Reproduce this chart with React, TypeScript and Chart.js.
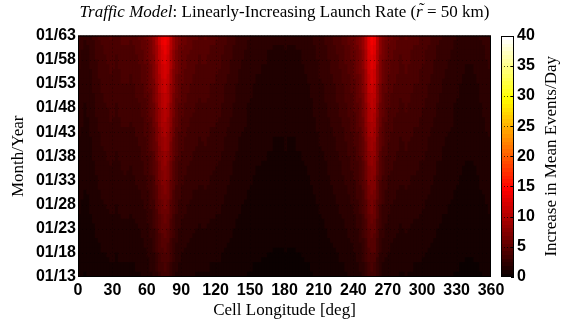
import { useEffect, useRef } from 'react';
import { Chart, registerables } from 'chart.js';

Chart.register(...registerables);

// Longitude cells (start of each 2.5° bin)
const LON_STEP = 2.5;
const lonStarts = [
  0, 2.5, 5, 7.5, 10, 12.5, 15, 17.5, 20, 22.5, 25, 27.5,
  30, 32.5, 35, 37.5, 40, 42.5, 45, 47.5, 50, 52.5, 55, 57.5,
  60, 62.5, 65, 67.5, 70, 72.5, 75, 77.5, 80, 82.5, 85, 87.5,
  90, 92.5, 95, 97.5, 100, 102.5, 105, 107.5, 110, 112.5, 115, 117.5,
  120, 122.5, 125, 127.5, 130, 132.5, 135, 137.5, 140, 142.5, 145, 147.5,
  150, 152.5, 155, 157.5, 160, 162.5, 165, 167.5, 170, 172.5, 175, 177.5,
  180, 182.5, 185, 187.5, 190, 192.5, 195, 197.5, 200, 202.5, 205, 207.5,
  210, 212.5, 215, 217.5, 220, 222.5, 225, 227.5, 230, 232.5, 235, 237.5,
  240, 242.5, 245, 247.5, 250, 252.5, 255, 257.5, 260, 262.5, 265, 267.5,
  270, 272.5, 275, 277.5, 280, 282.5, 285, 287.5, 290, 292.5, 295, 297.5,
  300, 302.5, 305, 307.5, 310, 312.5, 315, 317.5, 320, 322.5, 325, 327.5,
  330, 332.5, 335, 337.5, 340, 342.5, 345, 347.5, 350, 352.5, 355, 357.5,
];

// Increase in mean events/day per longitude cell in the final year (01/62 - 01/63)
const finalYearRate = [
  3.0, 2.8, 2.6, 2.7, 3.0, 3.3, 3.6, 3.9, 4.1, 4.3, 4.4, 4.6,
  4.5, 4.3, 4.5, 4.7, 4.8, 4.7, 4.6, 4.8, 5.0, 5.2, 5.5, 5.9,
  6.5, 7.3, 8.5, 10.2, 12.3, 14.0, 14.8, 13.6, 11.2, 9.0, 7.6, 6.8,
  6.3, 6.0, 5.7, 5.5, 5.3, 5.2, 5.0, 5.1, 5.2, 5.0, 4.8, 4.7,
  4.6, 4.5, 4.3, 4.0, 3.8, 3.6, 3.4, 3.2, 3.0, 2.9, 2.8, 2.6,
  2.5, 2.4, 2.3, 2.3, 2.2, 2.2, 2.1, 2.1, 2.0, 2.0, 2.0, 2.0,
  2.1, 2.0, 2.0, 2.0, 2.1, 2.1, 2.2, 2.3, 2.4, 2.5, 2.7, 2.9,
  3.1, 3.2, 3.4, 3.6, 3.8, 4.0, 4.3, 4.5, 4.8, 5.1, 5.4, 5.8,
  6.2, 6.8, 7.6, 9.0, 11.2, 13.8, 14.9, 14.2, 11.0, 8.6, 7.2, 6.5,
  6.1, 5.8, 5.5, 5.3, 5.0, 5.1, 5.3, 5.1, 4.9, 4.8, 4.7, 4.5,
  4.4, 4.2, 4.0, 3.8, 3.6, 3.4, 3.3, 3.1, 3.0, 2.9, 2.8, 2.6,
  2.5, 2.4, 2.3, 2.2, 2.2, 2.2, 2.3, 2.4, 2.6, 2.7, 2.9, 3.0,
];

// Year rows (start year of each row) and their share of the final-year rate
const yearStarts = [
  2013, 2014, 2015, 2016, 2017, 2018, 2019, 2020, 2021, 2022,
  2023, 2024, 2025, 2026, 2027, 2028, 2029, 2030, 2031, 2032,
  2033, 2034, 2035, 2036, 2037, 2038, 2039, 2040, 2041, 2042,
  2043, 2044, 2045, 2046, 2047, 2048, 2049, 2050, 2051, 2052,
  2053, 2054, 2055, 2056, 2057, 2058, 2059, 2060, 2061, 2062,
];
const growthFactor = [
  0.24, 0.26, 0.26, 0.28, 0.29, 0.31, 0.32, 0.33, 0.35, 0.36,
  0.37, 0.39, 0.40, 0.42, 0.43, 0.44, 0.46, 0.47, 0.49, 0.50,
  0.51, 0.53, 0.54, 0.55, 0.57, 0.58, 0.60, 0.61, 0.62, 0.64,
  0.65, 0.67, 0.68, 0.70, 0.71, 0.72, 0.74, 0.75, 0.77, 0.78,
  0.80, 0.81, 0.83, 0.84, 0.86, 0.87, 0.89, 0.91, 0.94, 0.97,
];

// Axis ticks
const lonTicks = [0, 30, 60, 90, 120, 150, 180, 210, 240, 270, 300, 330, 360];
const yearTickValues = [2013, 2018, 2023, 2028, 2033, 2038, 2043, 2048, 2053, 2058, 2063];
const yearTickLabels = ['01/13', '01/18', '01/23', '01/28', '01/33', '01/38', '01/43', '01/48', '01/53', '01/58', '01/63'];
const colorbarTicks = [0, 5, 10, 15, 20, 25, 30, 35, 40];
const C_MIN = 0;
const C_MAX = 40;

const SANS = '"Liberation Sans", Arial, Helvetica, sans-serif';
const SERIF = '"Liberation Serif", "Times New Roman", serif';
const SERIF_SIZE = 17;

// MATLAB-style 64-level "hot" colormap
function hotColor(v: number): string {
  const n = 64;
  let idx = Math.floor(((v - C_MIN) / (C_MAX - C_MIN)) * n);
  idx = Math.max(0, Math.min(n - 1, idx));
  const k = idx + 1;
  const r = Math.min(1, k / 24);
  const g = Math.max(0, Math.min(1, (k - 24) / 24));
  const b = Math.max(0, Math.min(1, (k - 48) / 16));
  return `rgb(${Math.round(r * 255)},${Math.round(g * 255)},${Math.round(b * 255)})`;
}

const heatmapDecor = {
  id: 'heatmapDecor',
  beforeDatasetsDraw(chart: any) {
    const { ctx, chartArea: a } = chart;
    ctx.save();
    ctx.fillStyle = '#000';
    ctx.fillRect(a.left, a.top, a.right - a.left, a.bottom - a.top);
    ctx.restore();
  },
  afterDatasetsDraw(chart: any) {
    const { ctx, chartArea: a, scales } = chart;
    const x = scales.x;
    const y = scales.y;
    const c = scales.y2;
    ctx.save();

    // dotted grid over the map
    ctx.strokeStyle = 'rgba(0,0,0,0.4)';
    ctx.lineWidth = 1;
    ctx.setLineDash([1, 3]);
    ctx.beginPath();
    lonTicks.slice(1, -1).forEach((t) => {
      const px = Math.round(x.getPixelForValue(t)) + 0.5;
      ctx.moveTo(px, a.top);
      ctx.lineTo(px, a.bottom);
    });
    yearTickValues.slice(1, -1).forEach((t) => {
      const py = Math.round(y.getPixelForValue(t)) + 0.5;
      ctx.moveTo(a.left, py);
      ctx.lineTo(a.right, py);
    });
    ctx.stroke();
    ctx.setLineDash([]);

    // frame
    ctx.strokeStyle = '#000';
    ctx.strokeRect(a.left + 0.5, a.top + 0.5, a.right - a.left - 1, a.bottom - a.top - 1);

    // colorbar
    const cbLeft = a.right + 10;
    const cbWidth = 13;
    const levels = 64;
    for (let i = 0; i < levels; i++) {
      const v0 = C_MIN + ((C_MAX - C_MIN) * i) / levels;
      const v1 = C_MIN + ((C_MAX - C_MIN) * (i + 1)) / levels;
      const yTop = c.getPixelForValue(v1);
      const yBot = c.getPixelForValue(v0);
      ctx.fillStyle = hotColor((v0 + v1) / 2);
      ctx.fillRect(cbLeft, Math.floor(yTop), cbWidth, Math.ceil(yBot) - Math.floor(yTop));
    }
    ctx.strokeStyle = 'rgba(0,0,0,0.7)';
    ctx.setLineDash([1, 2]);
    ctx.beginPath();
    colorbarTicks.slice(1, -1).forEach((t) => {
      const py = Math.round(c.getPixelForValue(t)) + 0.5;
      ctx.moveTo(cbLeft, py);
      ctx.lineTo(cbLeft + cbWidth, py);
    });
    ctx.stroke();
    ctx.setLineDash([]);
    ctx.strokeStyle = '#000';
    ctx.beginPath();
    colorbarTicks.forEach((t) => {
      const py = Math.round(c.getPixelForValue(t)) + 0.5;
      ctx.moveTo(cbLeft + cbWidth - 3, py);
      ctx.lineTo(cbLeft + cbWidth, py);
    });
    ctx.stroke();
    ctx.strokeRect(cbLeft + 0.5, Math.round(c.top) + 0.5, cbWidth - 1, Math.round(c.bottom - c.top) - 1);

    // colorbar label, reading upward
    ctx.fillStyle = '#000';
    ctx.font = `${SERIF_SIZE}px ${SERIF}`;
    ctx.textAlign = 'center';
    ctx.textBaseline = 'middle';
    ctx.translate(552, (c.top + c.bottom) / 2);
    ctx.rotate(-Math.PI / 2);
    ctx.fillText('Increase in Mean Events/Day', 0, 0);
    ctx.restore();
  },
  afterDraw(chart: any) {
    const { ctx, chartArea: a } = chart;
    const parts: [string, boolean][] = [
      ['Traffic Model', true],
      [': Linearly-Increasing Launch Rate (', false],
      ['r', true],
      [' = 50 km)', false],
    ];
    const ty = 13;
    ctx.save();
    ctx.fillStyle = '#000';
    ctx.textBaseline = 'middle';
    ctx.textAlign = 'left';
    const fontFor = (it: boolean) => `${it ? 'italic ' : ''}${SERIF_SIZE}px ${SERIF}`;
    let total = 0;
    parts.forEach(([t, it]) => {
      ctx.font = fontFor(it);
      total += ctx.measureText(t).width;
    });
    let px = (a.left + a.right) / 2 - total / 2;
    parts.forEach(([t, it], i) => {
      ctx.font = fontFor(it);
      const w = ctx.measureText(t).width;
      ctx.fillText(t, px, ty);
      if (i === 2) {
        // tilde accent over the r
        ctx.font = `${SERIF_SIZE}px ${SERIF}`;
        ctx.textAlign = 'center';
        ctx.fillText('\u02DC', px + w / 2 + 2.5, ty - 3);
        ctx.textAlign = 'left';
      }
      px += w;
    });
    ctx.restore();
  },
};

export default function App() {
  const canvasRef = useRef<HTMLCanvasElement | null>(null);

  useEffect(() => {
    document.body.style.margin = '0';
    const canvas = canvasRef.current;
    if (!canvas) return;

    const datasets = yearStarts.map((y0, j) => ({
      label: String(y0),
      data: lonStarts.map((l) => ({ x: l + LON_STEP / 2, y: [y0, y0 + 1] })),
      backgroundColor: lonStarts.map((_, i) => hotColor(finalYearRate[i] * growthFactor[j])),
      borderWidth: 0,
      grouped: false,
      barPercentage: 1,
      categoryPercentage: 1,
      xAxisID: 'x',
      yAxisID: 'y',
    }));

    const chart = new Chart(canvas, {
      type: 'bar',
      data: { datasets } as any,
      plugins: [heatmapDecor],
      options: {
        animation: false,
        responsive: false,
        devicePixelRatio: 1,
        layout: { padding: { top: 31, left: 0, right: 0, bottom: 0 } },
        plugins: { legend: { display: false }, tooltip: { enabled: false }, title: { display: false } },
        scales: {
          x: {
            type: 'linear',
            position: 'bottom',
            min: 0,
            max: 360,
            offset: false,
            grid: { display: false, drawTicks: false },
            border: { display: false },
            afterBuildTicks: (s: any) => {
              s.ticks = lonTicks.map((value) => ({ value }));
            },
            afterFit: (s: any) => {
              s.height = 51;
            },
            ticks: {
              autoSkip: false,
              maxRotation: 0,
              padding: 4,
              color: '#000',
              font: { family: SANS, size: 16, weight: 'bold' },
              callback: (v: any) => String(v),
            },
            title: {
              display: true,
              text: 'Cell Longitude [deg]',
              color: '#000',
              font: { family: SERIF, size: SERIF_SIZE },
              padding: { top: 0, bottom: 7 },
            },
          },
          y: {
            type: 'linear',
            position: 'left',
            min: 2013,
            max: 2063,
            grid: { display: false, drawTicks: false },
            border: { display: false },
            afterBuildTicks: (s: any) => {
              s.ticks = yearTickValues.map((value) => ({ value }));
            },
            afterFit: (s: any) => {
              s.width = 78;
            },
            ticks: {
              autoSkip: false,
              padding: 2,
              color: '#000',
              font: { family: SANS, size: 16, weight: 'bold' },
              callback: (_v: any, i: number) => yearTickLabels[i],
            },
            title: {
              display: true,
              text: 'Month/Year',
              color: '#000',
              font: { family: SERIF, size: SERIF_SIZE },
              padding: { top: 8, bottom: 0 },
            },
          },
          y2: {
            type: 'linear',
            position: 'right',
            min: C_MIN,
            max: C_MAX,
            grid: { display: false, drawTicks: false },
            border: { display: false },
            afterBuildTicks: (s: any) => {
              s.ticks = colorbarTicks.map((value) => ({ value }));
            },
            afterFit: (s: any) => {
              s.width = 75;
            },
            ticks: {
              autoSkip: false,
              padding: 26,
              color: '#000',
              font: { family: SANS, size: 16, weight: 'bold' },
              callback: (v: any) => String(v),
            },
          },
        },
      } as any,
    });

    return () => chart.destroy();
  }, []);

  return (
    <div style={{ width: 566, height: 328, background: '#fff' }}>
      <canvas ref={canvasRef} width={566} height={328} style={{ display: 'block' }} />
    </div>
  );
}
